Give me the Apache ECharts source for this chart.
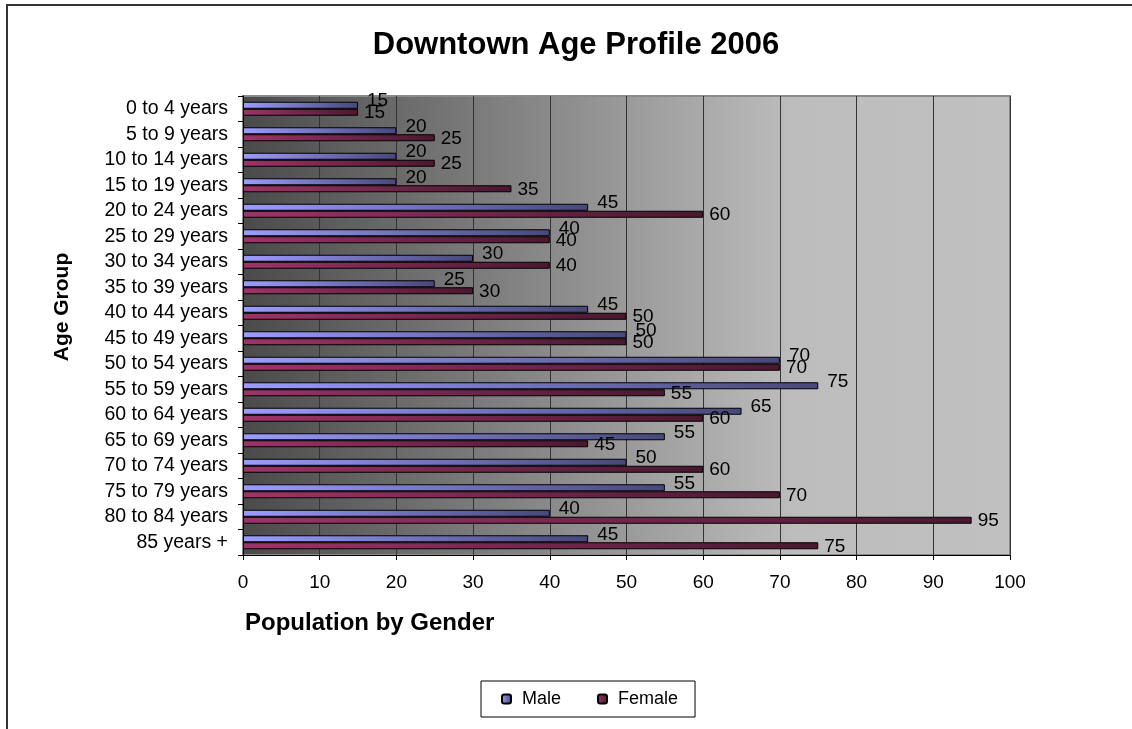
<!DOCTYPE html>
<html>
<head>
<meta charset="utf-8">
<script src="https://cdn.jsdelivr.net/npm/echarts@6/dist/echarts.min.js"></script>
<style>
  html, body { margin: 0; padding: 0; background: #fff; }
  #main { width: 1132px; height: 729px; }
</style>
</head>
<body>
<div id="main"></div>
<script>
'use strict'

// chart data
var ageGroups = ['0 to 4 years', '5 to 9 years', '10 to 14 years', '15 to 19 years',
    '20 to 24 years', '25 to 29 years', '30 to 34 years', '35 to 39 years',
    '40 to 44 years', '45 to 49 years', '50 to 54 years', '55 to 59 years',
    '60 to 64 years', '65 to 69 years', '70 to 74 years', '75 to 79 years',
    '80 to 84 years', '85 years +'];
var male = [15, 20, 20, 20, 45, 40, 30, 25, 45, 50, 70, 75, 65, 55, 50, 55, 40, 45];
var female = [15, 25, 25, 35, 60, 40, 40, 30, 50, 50, 70, 55, 60, 45, 60, 70, 95, 75];
var xTicks = [0, 10, 20, 30, 40, 50, 60, 70, 80, 90, 100];

var font = 'Arial, "Liberation Sans", sans-serif';

function grad(c1, c2) {
    return {
        type: 'linear', x: 0, y: 0, x2: 1, y2: 0,
        colorStops: [{ offset: 0, color: c1 }, { offset: 1, color: c2 }]
    };
}

var myChart = echarts.init(document.getElementById('main'));

var option = {
    animation: false,
    backgroundColor: '#fff',
    textStyle: { fontFamily: font },
    graphic: [
        {
            type: 'rect', silent: true,
            shape: { x: 7, y: 5, width: 1300, height: 900 },
            style: { fill: 'none', stroke: '#333', lineWidth: 2 }
        },
        {
            type: 'text', x: 576, y: 30,
            style: {
                text: 'Downtown Age Profile 2006', textAlign: 'center',
                font: 'bold 31px ' + font, fill: '#000'
            }
        },
        {
            type: 'text', x: 52, y: 307, rotation: Math.PI / 2,
            style: {
                text: 'Age Group', textAlign: 'center',
                font: 'bold 21px ' + font, fill: '#000'
            }
        },
        {
            type: 'text', x: 245, y: 611,
            style: {
                text: 'Population by Gender',
                font: 'bold 24px ' + font, fill: '#000'
            }
        }
    ],
    legend: {
        left: 481, top: 681,
        padding: [9, 17, 9, 20],
        itemGap: 36,
        itemWidth: 9, itemHeight: 9,
        borderColor: '#000', borderWidth: 1,
        backgroundColor: '#fff',
        textStyle: { fontSize: 18, color: '#000', fontFamily: font, padding: [0, 0, 0, 6] },
        data: ['Male', 'Female']
    },
    grid: {
        left: 243, right: 122, top: 96, bottom: 174,
        show: true,
        borderColor: '#8a8a8a', borderWidth: 2,
        backgroundColor: {
            type: 'linear', x: 0, y: 0, x2: 1, y2: 0,
            colorStops: [
                { offset: 0, color: '#4a4a4a' },
                { offset: 0.72, color: '#bdbdbd' },
                { offset: 1, color: '#c0c0c0' }
            ]
        }
    },
    xAxis: {
        type: 'value',
        min: xTicks[0], max: xTicks[xTicks.length - 1], interval: 10,
        axisLine: { show: true, lineStyle: { color: '#000', width: 1 } },
        axisTick: { show: true, length: 5, lineStyle: { color: '#000' } },
        axisLabel: { fontSize: 19, color: '#000', margin: 18, fontFamily: font },
        splitLine: { show: true, lineStyle: { color: '#333', width: 1 } }
    },
    yAxis: {
        type: 'category',
        data: ageGroups,
        inverse: true,
        axisLine: { show: true, lineStyle: { color: '#000', width: 1 } },
        axisTick: { show: true, length: 5, interval: 0, lineStyle: { color: '#000' } },
        axisLabel: { interval: 0, fontSize: 19.5, color: '#000', margin: 15, fontFamily: font },
        splitLine: { show: false }
    },
    series: [
        {
            name: 'Male', type: 'bar', data: male,
            barWidth: 7, barGap: '0%',
            itemStyle: { color: grad('#9c9cff', '#48487a'), borderColor: '#000', borderWidth: 1 },
            label: {
                show: true, position: 'right', distance: 6, offset: [3, -4],
                fontSize: 19, color: '#000', fontFamily: font
            }
        },
        {
            name: 'Female', type: 'bar', data: female,
            barWidth: 7,
            itemStyle: { color: grad('#9e3468', '#4a1830'), borderColor: '#000', borderWidth: 1 },
            label: {
                show: true, position: 'right', distance: 5, offset: [1, 1],
                fontSize: 19, color: '#000', fontFamily: font
            }
        }
    ]
};

myChart.setOption(option);
</script>
</body>
</html>
